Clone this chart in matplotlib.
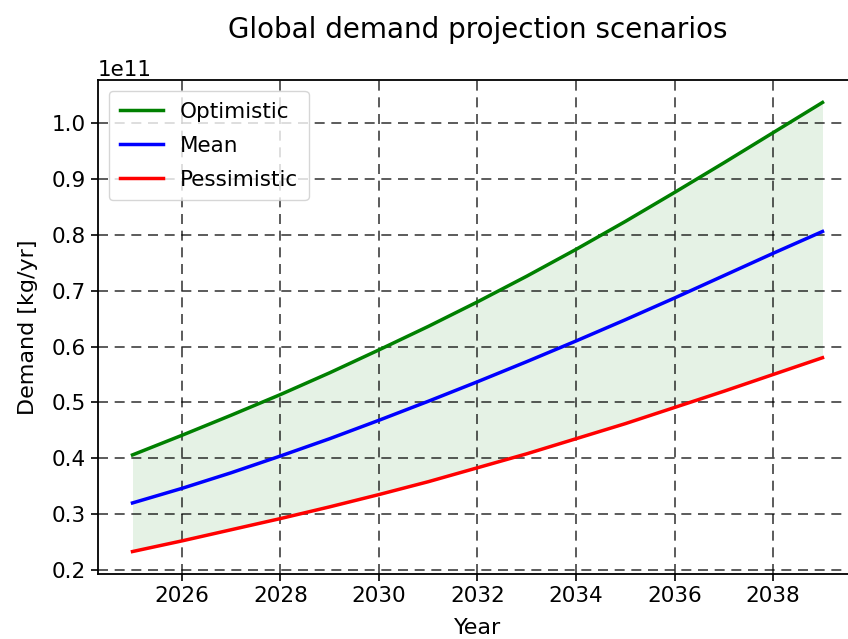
import matplotlib
matplotlib.use("Agg")
import matplotlib.pyplot as plt

# projected demand per scenario, units of 1e11 kg/yr
years = list(range(2025, 2040))
optimistic = [0.406, 0.441, 0.477, 0.514, 0.553, 0.594, 0.636, 0.680,
              0.726, 0.774, 0.824, 0.876, 0.929, 0.983, 1.037]
mean = [0.320, 0.346, 0.374, 0.404, 0.435, 0.468, 0.502, 0.537,
        0.573, 0.610, 0.648, 0.687, 0.727, 0.767, 0.806]
pessimistic = [0.233, 0.252, 0.272, 0.292, 0.313, 0.335, 0.358, 0.383,
               0.408, 0.435, 0.462, 0.491, 0.520, 0.550, 0.580]

opt = [v * 1e11 for v in optimistic]
avg = [v * 1e11 for v in mean]
pes = [v * 1e11 for v in pessimistic]

fig = plt.figure(figsize=(8.48, 6.39), dpi=100)
ax = fig.add_axes([98 / 848, 65 / 639, 759 / 848, 494 / 639])

ax.fill_between(years, pes, opt, color='green', alpha=0.1, linewidth=0)
ax.plot(years, opt, color='green', lw=2.5, label='Optimistic')
ax.plot(years, avg, color='blue', lw=2.5, label='Mean')
ax.plot(years, pes, color='red', lw=2.5, label='Pessimistic')

ax.set_xticks([2026, 2028, 2030, 2032, 2034, 2036, 2038])
ax.grid(True, color='black', linestyle=(0, (6, 4)), linewidth=1.2, alpha=0.75)
ax.tick_params(labelsize=15.5, width=1.2, length=5)
ax.yaxis.get_offset_text().set_fontsize(15.5)
for s in ax.spines.values():
    s.set_linewidth(1.3)

ax.set_title('Global demand projection scenarios', fontsize=20, pad=30)
ax.set_xlabel('Year', fontsize=16, labelpad=9)
ax.set_ylabel('Demand [kg/yr]', fontsize=16, labelpad=10)
ax.legend(loc='upper left', fontsize=15.5, handlelength=2.0, labelspacing=0.65,
          borderpad=0.5)

fig.savefig('out.png', dpi=100)
